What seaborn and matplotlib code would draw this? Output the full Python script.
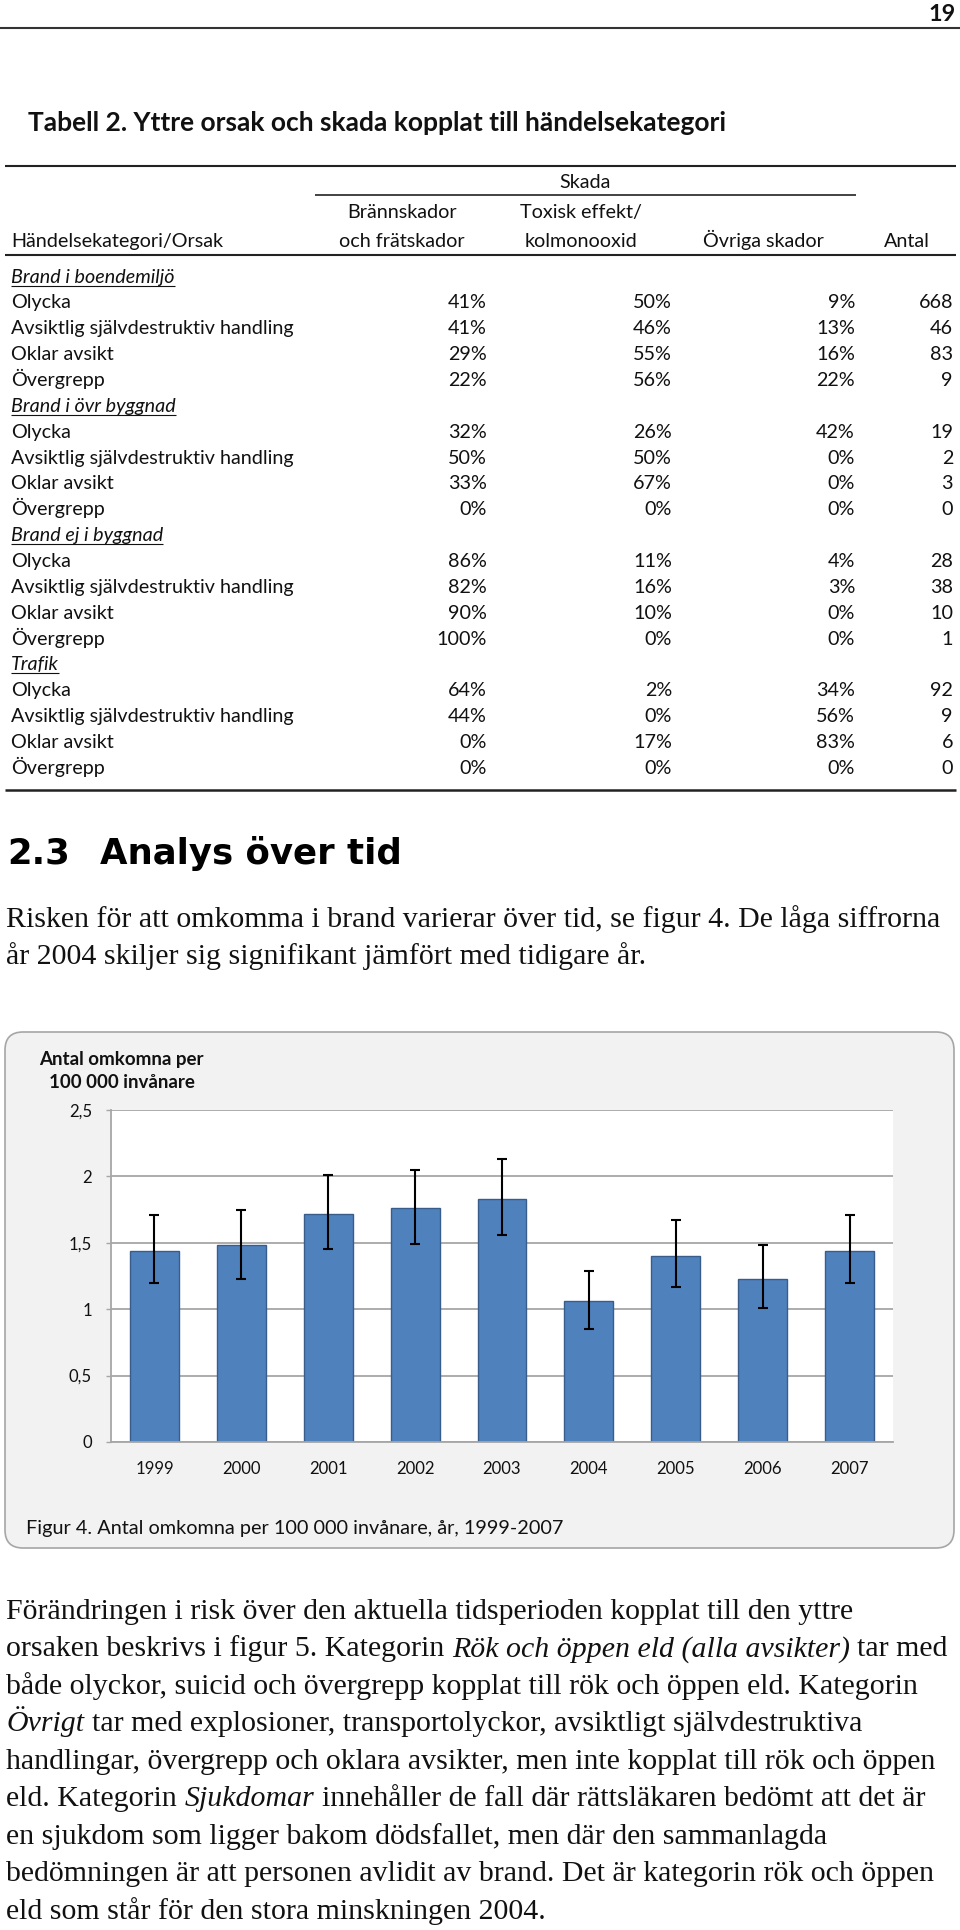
import matplotlib
matplotlib.use('Agg')
import matplotlib.pyplot as plt
import seaborn as sns
import numpy as np
import pandas as pd
from matplotlib.patches import FancyBboxPatch

# ---------------- data ----------------
years = ['1999', '2000', '2001', '2002', '2003', '2004', '2005', '2006', '2007']
rate = [1.44, 1.48, 1.72, 1.76, 1.83, 1.06, 1.40, 1.23, 1.44]
ci_low = [1.20, 1.23, 1.45, 1.49, 1.56, 0.85, 1.17, 1.01, 1.20]
ci_high = [1.71, 1.75, 2.01, 2.05, 2.13, 1.29, 1.67, 1.48, 1.71]
ytick_vals = [0, 0.5, 1, 1.5, 2, 2.5]
ytick_labels = ['0', '0,5', '1', '1,5', '2', '2,5']

groups = ['Brand i boendemiljö', 'Brand i övr byggnad', 'Brand ej i byggnad', 'Trafik']
causes = ['Olycka', 'Avsiktlig självdestruktiv handling', 'Oklar avsikt', 'Övergrepp']
pct_burn = [[41, 41, 29, 22], [32, 50, 33, 0], [86, 82, 90, 100], [64, 44, 0, 0]]
pct_toxic = [[50, 46, 55, 56], [26, 50, 67, 0], [11, 16, 10, 0], [2, 0, 17, 0]]
pct_other = [[9, 13, 16, 22], [42, 0, 0, 0], [4, 3, 0, 0], [34, 56, 83, 0]]
antal = [[668, 46, 83, 9], [19, 2, 3, 0], [28, 38, 10, 1], [92, 9, 6, 0]]

page_no = '19'
table_title = 'Tabell 2. Yttre orsak och skada kopplat till händelsekategori'
heading_no = '2.3'
heading_txt = 'Analys över tid'
para1 = ['Risken för att omkomma i brand varierar över tid, se figur 4. De låga siffrorna',
         'år 2004 skiljer sig signifikant jämfört med tidigare år.']
para2 = [
    [('Förändringen i risk över den aktuella tidsperioden kopplat till den yttre', False)],
    [('orsaken beskrivs i figur 5. Kategorin ', False), ('Rök och öppen eld (alla avsikter)', True), (' tar med', False)],
    [('både olyckor, suicid och övergrepp kopplat till rök och öppen eld. Kategorin', False)],
    [('Övrigt', True), (' tar med explosioner, transportolyckor, avsiktligt självdestruktiva', False)],
    [('handlingar, övergrepp och oklara avsikter, men inte kopplat till rök och öppen', False)],
    [('eld. Kategorin ', False), ('Sjukdomar', True), (' innehåller de fall där rättsläkaren bedömt att det är', False)],
    [('en sjukdom som ligger bakom dödsfallet, men där den sammanlagda', False)],
    [('bedömningen är att personen avlidit av brand. Det är kategorin rök och öppen', False)],
    [('eld som står för den stora minskningen 2004.', False)],
]
y_label_lines = ['Antal omkomna per', '100 000 invånare']
caption = 'Figur 4. Antal omkomna per 100 000 invånare, år, 1999-2007'

# ---------------- setup ----------------
sns.set_theme(style='white')
SANS = ['Lato', 'DejaVu Sans']
SERIF = ['Liberation Serif', 'DejaVu Serif']
HEAD = ['DejaVu Sans']
plt.rcParams['font.family'] = SANS

W, H = 960, 1930
fig = plt.figure(figsize=(W / 100, H / 100), dpi=100)
fig.patch.set_facecolor('white')
bg = fig.add_axes([0, 0, 1, 1])
bg.set_xlim(0, W)
bg.set_ylim(H, 0)
bg.axis('off')
renderer = fig.canvas.get_renderer()
INK = '#111111'


def raw_w(text, size, **kw):
    t = bg.text(0, 0, text, fontsize=size, **kw)
    w = t.get_window_extent(renderer).width
    t.remove()
    return w


def adv(text, size, **kw):
    return raw_w('|' + text + '|', size, **kw) - raw_w('||', size, **kw)


def fit(text, target, **kw):
    return 20 * target / raw_w(text, 20, **kw)


def txt(x, yc, s, size, cap=0.72, **kw):
    """Place text so that its cap-height middle sits at yc (pixels, y down)."""
    px = size * 100 / 72
    kw.setdefault('color', INK)
    return bg.text(x, yc + 0.5 * cap * px, s, fontsize=size, va='baseline', **kw)


def hline(x0, x1, y, lw=1.4, color='#222222'):
    bg.plot([x0, x1], [y, y], color=color, lw=lw, solid_capstyle='butt')


# ---------------- page header ----------------
fs_pg = fit(page_no, 27, family=SANS, weight='bold')
txt(956, 13, page_no, fs_pg, family=SANS, weight='bold', ha='right')
hline(0, 960, 28, lw=1.5, color='#333333')

# ---------------- table ----------------
fs_title = fit(table_title, 701, family=SANS, weight='bold')
txt(28, 121, table_title, fs_title, family=SANS, weight='bold')

fs_tab = fit('Avsiktlig självdestruktiv handling', 284, family=SANS)
hline(5, 956, 166, lw=1.5)
txt(585, 181, 'Skada', fs_tab, ha='center')
hline(315, 856, 195, lw=1.2)
txt(402, 211, 'Brännskador', fs_tab, ha='center')
txt(402, 240, 'och frätskador', fs_tab, ha='center')
txt(581, 211, 'Toxisk effekt/', fs_tab, ha='center')
txt(581, 240, 'kolmonooxid', fs_tab, ha='center')
txt(763, 240, 'Övriga skador', fs_tab, ha='center')
txt(907, 240, 'Antal', fs_tab, ha='center')
txt(11, 240, 'Händelsekategori/Orsak', fs_tab)
hline(5, 956, 255, lw=1.5)

col_x = [487, 672, 855, 953]
y = 275.5
pitch = 25.85
for gi, g in enumerate(groups):
    t = txt(11, y, g, fs_tab, style='italic')
    gw = t.get_window_extent(renderer).width
    hline(11, 11 + gw, y + 10, lw=0.8, color=INK)
    y += pitch
    for ci, c in enumerate(causes):
        txt(11, y, c, fs_tab)
        vals = [f'{pct_burn[gi][ci]}%', f'{pct_toxic[gi][ci]}%', f'{pct_other[gi][ci]}%', f'{antal[gi][ci]}']
        for xx, v in zip(col_x, vals):
            txt(xx, y, v, fs_tab, ha='right')
        y += pitch
hline(5, 956, 790, lw=1.8)

# ---------------- heading + paragraph 1 ----------------
fs_head = fit(heading_txt, 302, family=HEAD, weight='bold')
txt(7, 851, heading_no, fs_head, cap=0.73, family=HEAD, weight='bold', color='black')
txt(100, 851, heading_txt, fs_head, cap=0.73, family=HEAD, weight='bold', color='black')

fs_body = 0.5 * (fit(para1[0], 929, family=SERIF) +
                 fit(para2[0][0][0], 852, family=SERIF))
for i, line in enumerate(para1):
    txt(6, 917 + 37 * i, line, fs_body, cap=0.66, family=SERIF)

# ---------------- chart box ----------------
r = 18
box = FancyBboxPatch((5 + r, 1032 + r), 949 - 2 * r, 516 - 2 * r,
                     boxstyle=f'round,pad={r}', facecolor='#f2f2f2',
                     edgecolor='#a6a6a6', lw=1.2)
bg.add_patch(box)

fs_lab = fit(y_label_lines[0], 164, family=SANS, weight='bold')
txt(121, 1058, y_label_lines[0], fs_lab, weight='bold', ha='center')
txt(122, 1081, y_label_lines[1], fs_lab, weight='bold', ha='center')

fs_cap = fit(caption, 540, family=SANS)
txt(26, 1527, caption, fs_cap)

ax_l, ax_r, ax_t, ax_b = 111, 893, 1110, 1442
ax = fig.add_axes([ax_l / W, (H - ax_b) / H, (ax_r - ax_l) / W, (ax_b - ax_t) / H])
ax.set_facecolor('white')
df = pd.DataFrame({'year': years, 'rate': rate})
sns.barplot(data=df, x='year', y='rate', color='#4f81bd', saturation=1, width=0.563,
            edgecolor='#385d8a', linewidth=1.0, errorbar=None, ax=ax, zorder=2)
rate_a = np.array(rate)
yerr = np.vstack([rate_a - np.array(ci_low), np.array(ci_high) - rate_a])
ax.errorbar(np.arange(len(years)), rate_a, yerr=yerr, fmt='none', ecolor='black',
            elinewidth=1.5, capsize=3.5, capthick=1.5, zorder=3)
ax.set_xlim(-0.5, len(years) - 0.5)
ax.set_ylim(0, 2.5)
ax.set_yticks(ytick_vals)
ax.set_yticklabels(ytick_labels)
ax.yaxis.grid(True, color='#a6a6a6', lw=1.3)
ax.set_axisbelow(True)
ax.set_xlabel('')
ax.set_ylabel('')
for s in ['top', 'right']:
    ax.spines[s].set_visible(False)
for s in ['left', 'bottom']:
    ax.spines[s].set_color('#a6a6a6')
    ax.spines[s].set_linewidth(1.3)
fs_tick = fit('1999', 39, family=SANS)
ax.tick_params(axis='y', left=True, length=3.6, width=1, color='#a6a6a6', pad=10,
               labelsize=fs_tick, labelcolor=INK)
ax.tick_params(axis='x', bottom=False, length=0, pad=14, labelsize=fs_tick, labelcolor=INK)

# ---------------- paragraph 2 ----------------
sp_r = adv(' ', fs_body, family=SERIF)
y0 = 1609
for i, segs in enumerate(para2):
    x = 6.0
    yy = y0 + 37.5 * i
    for text, ital in segs:
        st = 'italic' if ital else 'normal'
        lead = len(text) - len(text.lstrip(' '))
        trail = len(text) - len(text.rstrip(' '))
        core = text.strip(' ')
        x += lead * sp_r
        txt(x, yy, core, fs_body, cap=0.66, family=SERIF, style=st)
        x += adv(core, fs_body, family=SERIF, style=st)
        x += trail * sp_r

fig.savefig('out.png', dpi=100, facecolor='white')
